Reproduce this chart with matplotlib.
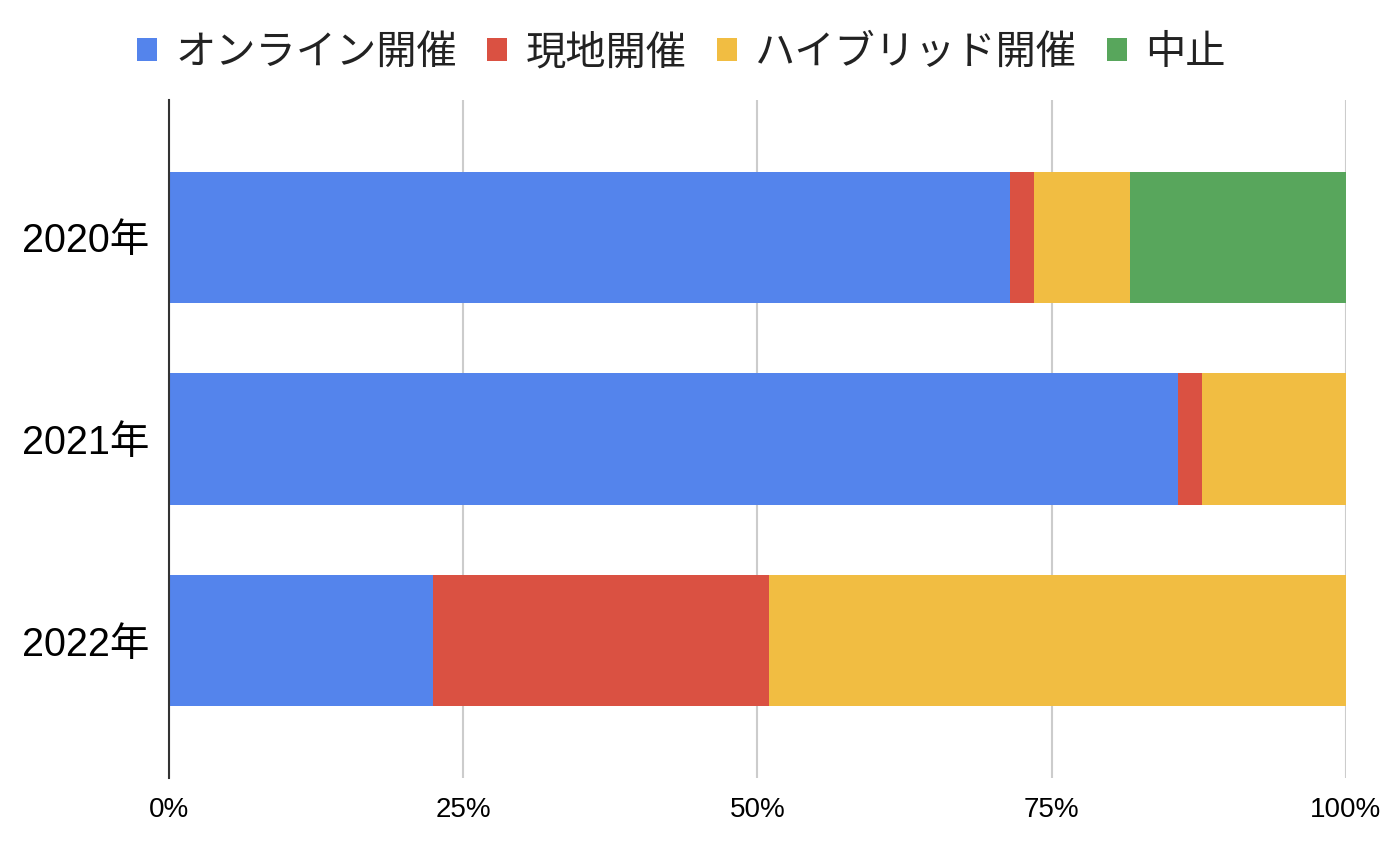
import numpy as np
import matplotlib
matplotlib.use('Agg')
import matplotlib.pyplot as plt
from matplotlib.patches import Patch

plt.rcParams['font.family'] = ['Liberation Sans', 'Noto Sans CJK JP', 'DejaVu Sans']

years = ['2020年', '2021年', '2022年']
series = ['オンライン開催', '現地開催', 'ハイブリッド開催', '中止']
online = [35, 42, 11]
onsite = [1, 1, 14]
hybrid = [4, 6, 24]
cancel = [9, 0, 0]
colors = ['#5484EC', '#DA5142', '#F1BD42', '#58A65C']

data = np.array([online, onsite, hybrid, cancel], dtype=float)
share = data / data.sum(axis=0) * 100

fig = plt.figure(figsize=(13.84, 8.48), dpi=100)
ax = fig.add_axes([0.1221, 0.0825, 0.8504, 0.7995])

y = np.arange(len(years))
left = np.zeros(len(years))
for vals, name, c in zip(share, series, colors):
    ax.barh(y, vals, left=left, height=0.65, color=c, label=name, zorder=3)
    left += vals

ax.set_xlim(0, 100)
ax.set_ylim(2.68, -0.68)
ax.set_yticks(y)
ax.set_yticklabels(years, fontsize=28.5)
ax.set_xticks([0, 25, 50, 75, 100])
ax.set_xticklabels(['0%', '25%', '50%', '75%', '100%'], fontsize=20)
ax.tick_params(axis='y', length=0, pad=14)
ax.tick_params(axis='x', length=0, pad=14)
ax.grid(axis='x', color='#cccccc', linewidth=1.5, zorder=0)
for s in ['top', 'right', 'bottom']:
    ax.spines[s].set_visible(False)
ax.spines['left'].set_color('#333333')
ax.spines['left'].set_linewidth(1.5)
ax.spines['left'].set_zorder(4)

handles = [Patch(facecolor=c, edgecolor='none') for c in colors]
leg = fig.legend(handles, series, loc='center', bbox_to_anchor=(0.4924, 0.938), ncol=4,
                 frameon=False, prop={'family': ['Noto Sans CJK JP', 'DejaVu Sans'], 'size': 29},
                 handlelength=0.5, handleheight=0.5, handletextpad=0.45, columnspacing=0.75)
for t in leg.get_texts():
    t.set_color('#222222')

fig.savefig('out.png', dpi=100)
